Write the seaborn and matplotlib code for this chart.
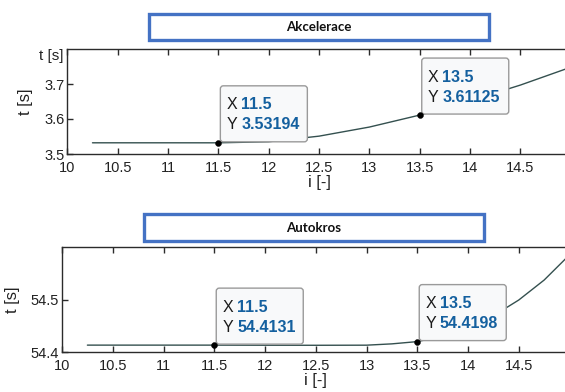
import matplotlib
matplotlib.use("Agg")
import matplotlib.pyplot as plt
import matplotlib.transforms as mtransforms
from matplotlib.patches import FancyBboxPatch, Rectangle
import pandas as pd
import seaborn as sns

# Data
acc_i = [10.25, 10.5, 11.0, 11.5, 12.0, 12.5, 13.0, 13.5, 14.0, 14.5, 15.0]
acc_t = [3.532, 3.532, 3.532, 3.53194, 3.535, 3.551, 3.577, 3.61125, 3.652, 3.697, 3.748]
acc_tips_i = [11.5, 13.5]
acc_tips_t = [3.53194, 3.61125]
acc_tips_lbl = ["3.53194", "3.61125"]

auto_i = [10.25, 11.0, 11.5, 12.0, 12.5, 13.0, 13.25, 13.5, 13.75, 14.0, 14.25, 14.5, 14.75, 15.0]
auto_t = [54.4131, 54.4131, 54.4131, 54.4129, 54.4128, 54.4130, 54.4155, 54.4198,
          54.430, 54.446, 54.469, 54.499, 54.537, 54.585]
auto_tips_i = [11.5, 13.5]
auto_tips_t = [54.4131, 54.4198]
auto_tips_lbl = ["54.4131", "54.4198"]

x_ticks = [10, 10.5, 11, 11.5, 12, 12.5, 13, 13.5, 14, 14.5]
x_ticklabels = ["10", "10.5", "11", "11.5", "12", "12.5", "13", "13.5", "14", "14.5"]

sns.set_theme(style="ticks")
plt.rcParams["font.family"] = ["Liberation Sans", "DejaVu Sans"]
plt.rcParams["axes.edgecolor"] = "#2b2b2b"
plt.rcParams["axes.linewidth"] = 1.0

LINE = "#34504f"
TIPBLUE = "#14609f"

fig = plt.figure(figsize=(5.65, 3.92), dpi=100)
fig.patch.set_facecolor("white")

ax_top = fig.add_axes([67.3 / 565, 1 - 154 / 392, 503.5 / 565, 105 / 392])
ax_bot = fig.add_axes([62 / 565, 1 - 352 / 392, 507.5 / 565, 105 / 392])


def data_tip(ax, x, y, label_x, label_y):
    tr = mtransforms.IdentityTransform() + mtransforms.ScaledTranslation(x, y, ax.transData)
    box = FancyBboxPatch((2, 1), 87, 56, boxstyle="round,pad=0,rounding_size=3",
                         facecolor="#f8f9fa", edgecolor="#9a9a9a", lw=1.0,
                         transform=tr, zorder=4, clip_on=False)
    ax.add_patch(box)
    for dy, letter, val in [(57 - 19, "X", label_x), (57 - 39, "Y", label_y)]:
        t = ax.text(8, dy, letter, transform=tr, fontsize=11.5, color="#1a1a1a",
                    va="center", ha="left", zorder=5)
        ax.annotate(val, xy=(1, 0), xycoords=t, xytext=(4, 0), textcoords="offset pixels",
                    fontsize=11.5, color=TIPBLUE, fontweight="bold",
                    va="bottom", ha="left", zorder=5)


def draw_panel(ax, xs, ys, tip_x, tip_y, tip_lbl, ylim, yticks, title, title_box):
    df = pd.DataFrame({"i": xs, "t": ys})
    sns.lineplot(data=df, x="i", y="t", ax=ax, color=LINE, lw=1.0, zorder=3)
    tips = pd.DataFrame({"i": tip_x, "t": tip_y})
    sns.scatterplot(data=tips, x="i", y="t", ax=ax, color="black", s=18,
                    edgecolor="black", zorder=6, clip_on=False)
    for xv, yv, lbl in zip(tip_x, tip_y, tip_lbl):
        data_tip(ax, xv, yv, f"{xv:g}", lbl)

    ax.set_xlim(10, 15)
    ax.set_ylim(*ylim)
    ax.set_xticks(x_ticks)
    ax.set_xticklabels(x_ticklabels)
    ax.set_yticks(yticks)
    ax.tick_params(direction="in", length=4, width=1, colors="#2b2b2b",
                   labelsize=10.5, labelcolor="#222222", pad=2, top=True)
    ax.tick_params(axis="x", pad=5)
    ax.set_xlabel("i [-]", fontsize=12, color="#222222", labelpad=0)
    ax.set_ylabel("t [s]", fontsize=12, color="#222222", labelpad=8)
    for s in ["top", "right", "left", "bottom"]:
        ax.spines[s].set_visible(True)

    # blue framed title box above the axes
    x0, y0, x1, y1 = title_box
    fig.patches.append(Rectangle((x0 / 565, 1 - y1 / 392), (x1 - x0) / 565, (y1 - y0) / 392,
                                 transform=fig.transFigure, facecolor="white",
                                 edgecolor="#4472c4", lw=2.4))
    fig.text((x0 + x1) / 2 / 565, 1 - (y0 + y1) / 2 / 392, title, ha="center", va="center",
             fontsize=9.5, fontweight="bold", color="#111111", family=["Lato", "DejaVu Sans"])


draw_panel(ax_top, acc_i, acc_t, acc_tips_i, acc_tips_t, acc_tips_lbl,
           (3.5, 3.8), [3.5, 3.6, 3.7], "Akcelerace", (149, 14, 489, 40))
draw_panel(ax_bot, auto_i, auto_t, auto_tips_i, auto_tips_t, auto_tips_lbl,
           (54.4, 54.6), [54.4, 54.5], "Autokros", (144, 214, 484, 241))

# stray axis label at the top of the first panel
ax_top.text(-0.008, 0.93, "t [s]", transform=ax_top.transAxes, ha="right", va="center",
            fontsize=11, color="#222222")

fig.savefig("out.png", dpi=100)
